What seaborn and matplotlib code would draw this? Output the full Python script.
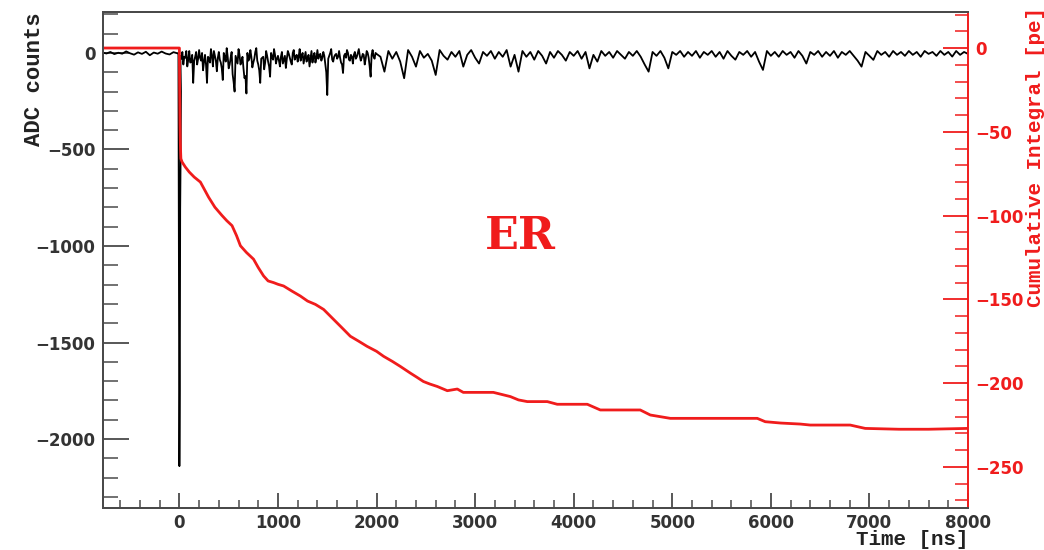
import numpy as np
import pandas as pd
import matplotlib
matplotlib.use("Agg")
import matplotlib.pyplot as plt
from matplotlib.ticker import MultipleLocator, FuncFormatter
import seaborn as sns

# ---------------- data ----------------
# ADC waveform (black), sampled on three time segments plus the prompt pulse
pre_t = np.arange(-780, -1, 40)
pre_adc = [2, -3, 5, -6, 1, -4, 8, -2, -9, 3, -5, 6, -12, 2, -4, 7, -3, -8, 4, -2]

pulse_t = [-10, 0, 4, 8, 12, 16]
pulse_adc = [0, -2140, -1750, -810, -560, -200]

early_t = np.arange(10, 2001, 10)
early_adc = [
    -15, -30, 5, -60, -20, -25, 10, -70, -35, 10, -50, -45, -10, -155, -40, -20, 5, -60, -30, 15,
    -25, -40, 0, -90, -45, -10, -60, -155, -20, -30, -50, 20, -15, -70, 10, -15, -40, -95, -25, 5,
    -35, -50, -80, -140, 0, -20, -45, 25, -20, -80, -60, -25, 5, -110, -150, -200, -15, -35, -55, 20,
    -10, -60, -45, -20, -80, -130, -120, -210, 0, -40, -30, 15, -20, -75, -50, -30, 5, 25, -40, -60,
    -90, -155, -30, -25, -20, -85, -50, 10, -15, -45, -70, -123, 0, -20, -35, 20, -10, -55, -30, -15,
    -40, -70, -20, 5, -55, -35, -15, -78, -30, 10, -5, -25, -45, -60, 0, 15, -35, -20, -10, -45,
    -20, 20, -40, -15, 0, -55, -25, 5, -45, -30, -10, -70, -30, 10, -50, -20, 0, -50, -25, 15,
    -30, -10, -5, -40, -25, 5, -15, -60, -100, -218, -30, -15, 0, 20, -35, -45, -20, -10, -5, -30,
    -20, 10, -25, -50, -60, -104, -15, -5, -25, 15, 0, -35, -40, -10, -20, -55, -10, 5, -30, -20,
    0, 20, -15, -40, -25, -5, -10, -60, -30, 10, 0, -25, -70, -123, -10, 15, -20, -30, 0, -5,
]

late_t = np.arange(2040, 8001, 40)
late_adc = [
    -20, -97, 10, -30, 5, -45, -131, 15, -20, -71,
    10, -25, -5, -40, -114, 15, -15, -35, 5, -20,
    10, -71, -10, 15, -25, -55, 5, -15, 10, -30,
    5, -20, 15, -71, -10, -97, 10, -20, 5, -35,
    10, -15, -55, 5, -25, 10, -10, -40, 5, -15,
    10, -30, 5, -80, -10, -45, 10, -15, 5, -25,
    10, -10, -30, 5, -15, 10, -20, -60, -97, 5,
    -15, 10, -25, -80, 5, -10, 10, -20, 5, -15,
    10, -25, 5, -10, 10, -20, 5, -30, 10, -15,
    -35, 5, -10, 10, -20, 5, -45, -88, 10, -15,
    5, -20, 10, -10, 5, -25, 10, -15, -55, 5,
    -10, 10, -20, 5, -15, 10, -25, 5, -10, 10,
    -15, -40, -71, 5, -15, -36, 10, -10, 5, -20,
    10, -10, 5, -15, 10, -10, 5, -20, 10, -5,
    5, -15, 10, -10, 5, -19, 10, -10, 5, -5,
]

# Cumulative integral (red)
cum_t = [-780, 0, 2, 6, 10, 15, 27, 60, 100, 150, 213, 250, 296, 360, 433, 480, 534,
         580, 619, 680, 752, 800, 854, 900, 956, 1000, 1057, 1140, 1227, 1300, 1380,
         1463, 1565, 1650, 1734, 1820, 1903, 2000, 2072, 2160, 2241, 2343, 2410, 2475,
         2540, 2617, 2718, 2819, 2880, 3185, 3357, 3440, 3529, 3732, 3833, 4138, 4270,
         4675, 4777, 4980, 5862, 5943, 6100, 6298, 6400, 6805, 6957, 7300, 7600, 8000]
cum_pe = [0, 0, -20, -45, -58, -66, -68, -71, -74, -77, -80, -84, -89, -95, -100,
          -103, -106, -112, -118, -122, -126, -131, -136, -139, -140, -141, -142, -145,
          -148, -151, -153, -156, -162, -167, -172, -175, -178, -181, -184, -187, -190,
          -194, -196.5, -199, -200.5, -202, -204.5, -203.5, -205.5, -205.5, -208, -210,
          -211, -211, -212.6, -212.6, -216, -216, -219, -221, -221, -223, -223.8, -224.4,
          -225, -225, -227, -227.5, -227.5, -227]

label_text = "ER"

wave = pd.DataFrame({
    "t": np.concatenate([pre_t, pulse_t, early_t, late_t]),
    "adc": np.concatenate([pre_adc, pulse_adc, early_adc, late_adc]),
})
cum = pd.DataFrame({"t": cum_t, "pe": cum_pe})

# ---------------- plot ----------------
sns.set_theme(style="white")
plt.rcParams["font.family"] = ["DejaVu Sans"]

RED = "#f01c1c"
FRAME = "#4a4a4a"
TICKTXT = "#333333"
mono = "Liberation Mono"

fig = plt.figure(figsize=(10.44, 5.5), dpi=100)
ax = fig.add_axes([103 / 1044, 1 - 508 / 550, 865 / 1044, 496 / 550])

sns.lineplot(data=wave, x="t", y="adc", ax=ax, color="black", lw=1.3,
             estimator=None, sort=False, zorder=3)

ax.set_xlim(-775, 8000)
ax.set_ylim(-2357, 212)

ax2 = ax.twinx()
sns.lineplot(data=cum, x="t", y="pe", ax=ax2, color=RED, lw=2.0,
             estimator=None, sort=False)
ax2.set_ylim(-274.5, 21.5)
ax2.set_xlim(-775, 8000)

# ticks
ax.xaxis.set_major_locator(MultipleLocator(1000))
ax.xaxis.set_minor_locator(MultipleLocator(200))
ax.yaxis.set_major_locator(MultipleLocator(500))
ax.yaxis.set_minor_locator(MultipleLocator(100))
ax2.yaxis.set_major_locator(MultipleLocator(50))
ax2.yaxis.set_minor_locator(MultipleLocator(10))

ax.tick_params(axis="x", which="major", direction="in", length=11, width=1.3,
               color=FRAME, labelsize=12, labelcolor=TICKTXT, pad=4, top=False, bottom=True)
ax.tick_params(axis="x", which="minor", direction="in", length=6, width=1.1,
               color=FRAME, top=False, bottom=True)
ax.tick_params(axis="y", which="major", direction="in", length=19, width=1.3,
               color=FRAME, labelsize=12, labelcolor=TICKTXT, pad=5.5, left=True, right=False)
ax.tick_params(axis="y", which="minor", direction="in", length=10.5, width=1.1,
               color=FRAME, left=True, right=False)
ax2.tick_params(axis="y", which="major", direction="in", length=18, width=1.3,
                color=RED, labelsize=12, labelcolor=RED, pad=5, right=True, left=False)
ax2.tick_params(axis="y", which="minor", direction="in", length=9.5, width=1.1,
                color=RED, right=True, left=False)

fmt = FuncFormatter(lambda v, p: f"{int(round(v))}".replace("-", "\u2212"))
ax.xaxis.set_major_formatter(fmt)
ax.yaxis.set_major_formatter(fmt)
ax2.yaxis.set_major_formatter(fmt)

for lab in ax.get_xticklabels() + ax.get_yticklabels() + ax2.get_yticklabels():
    lab.set_fontweight("bold")

# spines
for a in (ax, ax2):
    for s in a.spines.values():
        s.set_color(FRAME)
        s.set_linewidth(1.4)
ax2.spines["right"].set_color(RED)
ax.spines["right"].set_visible(False)

# labels
ax.set_xlabel("Time [ns]", family=mono, fontweight="bold", fontsize=15,
              color="#222222", loc="right")
ax.xaxis.set_label_coords(1.0, -0.045)
ax.set_ylabel("ADC counts", family=mono, fontweight="bold", fontsize=16,
              color="#222222", loc="top")
ax.yaxis.set_label_coords(-0.067, 1.0)
ax2.set_ylabel("Cumulative Integral [pe]", family=mono, fontweight="bold",
               fontsize=15, color=RED, loc="top")
ax2.yaxis.set_label_coords(1.067, 1.01)

ax.text(3458, -953, label_text, family="DejaVu Serif", fontweight="bold",
        fontsize=32, color=RED, ha="center", va="center")

fig.savefig("out.png", dpi=100)
